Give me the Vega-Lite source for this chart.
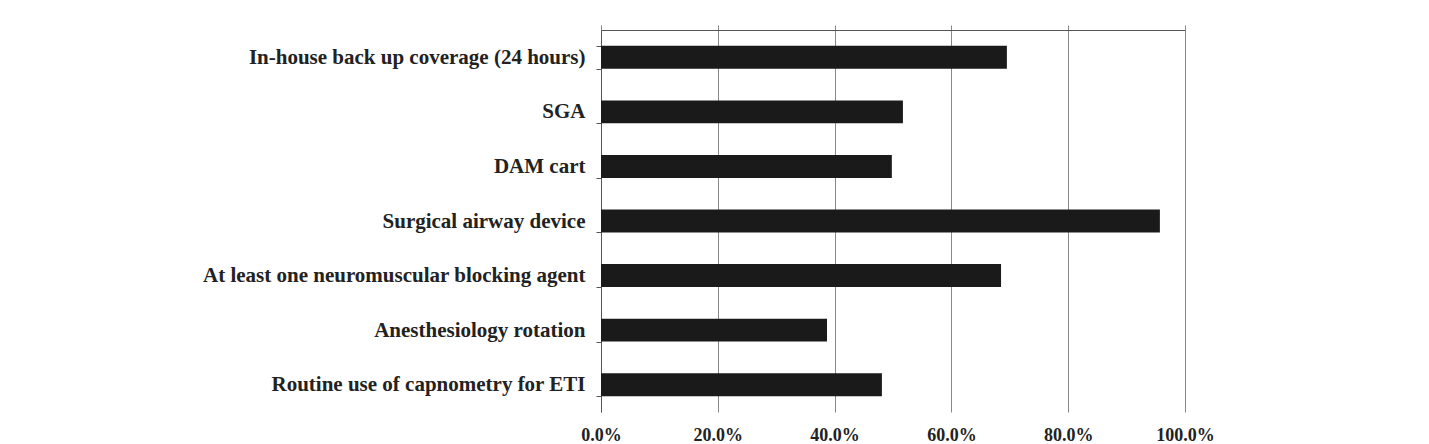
{
  "$schema": "https://vega.github.io/schema/vega-lite/v6.json",
  "width": 584,
  "height": 382,
  "autosize": {"type": "none"},
  "padding": {"left": 601, "top": 30, "right": 244, "bottom": 32},
  "background": "white",
  "config": {
    "view": {"stroke": null},
    "font": "Liberation Serif"
  },
  "data": {
    "values": [
      {"item": "In-house back up coverage (24 hours)", "pct": 0.695},
      {"item": "SGA", "pct": 0.517},
      {"item": "DAM cart", "pct": 0.498},
      {"item": "Surgical airway device", "pct": 0.957},
      {"item": "At least one neuromuscular blocking agent", "pct": 0.685},
      {"item": "Anesthesiology rotation", "pct": 0.387},
      {"item": "Routine use of capnometry for ETI", "pct": 0.481}
    ]
  },
  "layer": [
    {
      "mark": {"type": "bar", "color": "#1a1a1a"},
      "encoding": {
        "y": {
          "field": "item",
          "type": "nominal",
          "sort": null,
          "title": null,
          "scale": {"paddingInner": 0.58, "paddingOuter": 0.29},
          "axis": {
            "tickBand": "extent",
            "tickSize": 5,
            "tickColor": "#555555",
            "domainColor": "#555555",
            "labelPadding": 11,
            "labelFontSize": 21,
            "labelFontWeight": "bold",
            "labelColor": "#222222",
            "labelLimit": 600
          }
        },
        "x": {
          "field": "pct",
          "type": "quantitative",
          "title": null,
          "scale": {"domain": [0, 1]},
          "axis": {
            "orient": "bottom",
            "values": [0, 0.2, 0.4, 0.6, 0.8, 1],
            "format": ".1%",
            "grid": true,
            "gridColor": "#888888",
            "gridOpacity": 1,
            "domain": false,
            "ticks": false,
            "labelPadding": 14,
            "labelFontSize": 18,
            "labelFontWeight": "bold",
            "labelColor": "#222222",
            "labelFlush": false
          }
        }
      }
    },
    {
      "mark": {"type": "tick", "opacity": 0},
      "encoding": {
        "x": {
          "field": "pct",
          "type": "quantitative",
          "scale": {"domain": [0, 1]},
          "title": null,
          "axis": {
            "orient": "top",
            "values": [0, 0.2, 0.4, 0.6, 0.8, 1],
            "labels": false,
            "grid": false,
            "domain": true,
            "domainColor": "#555555",
            "ticks": true,
            "tickSize": 5,
            "tickColor": "#888888"
          }
        }
      }
    }
  ],
  "resolve": {"axis": {"x": "independent"}}
}
